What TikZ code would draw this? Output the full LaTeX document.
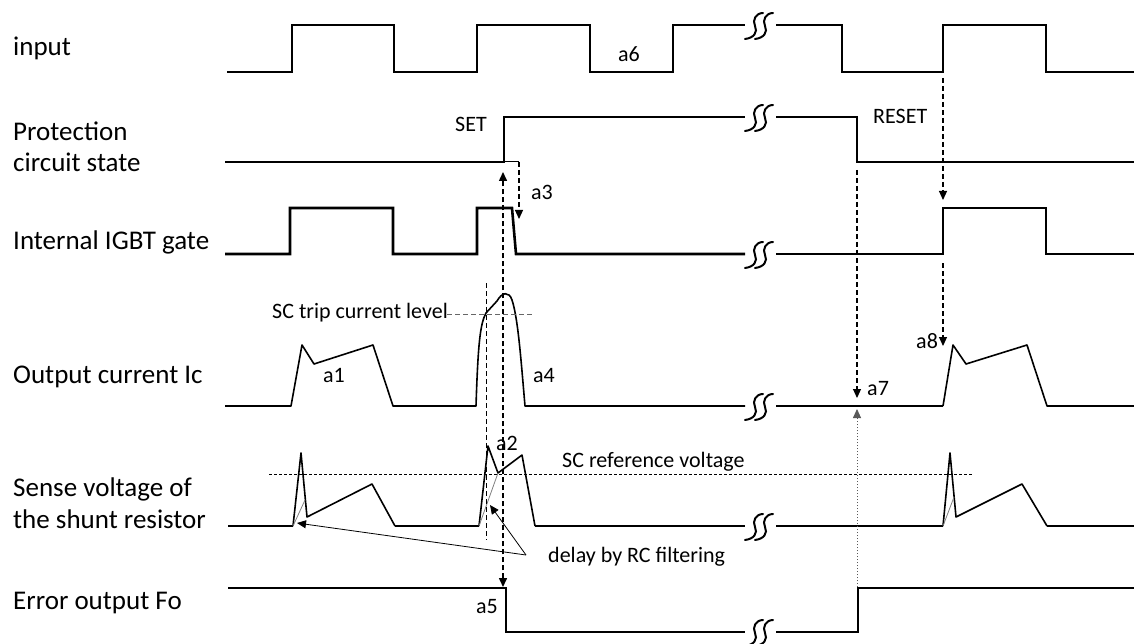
\documentclass[tikz,border=0pt]{standalone}
\usepackage{fontspec}
\setmainfont{Carlito}
\usetikzlibrary{arrows.meta}
\tikzset{
  sig/.style={line width=2.6pt},
  wave/.style={line width=1.6pt, line join=round},
  filt/.style={line width=0.8pt, gray},
  lbl/.style={font=\fontsize{27}{32}\selectfont, inner sep=0pt, anchor=base west},
  note/.style={font=\fontsize{22}{26}\selectfont, inner sep=0pt, anchor=base west},
  tip/.style={-{Triangle[length=9pt,width=8pt]}},
  bothtip/.style={{Triangle[length=9pt,width=8pt]}-{Triangle[length=9pt,width=8pt]}},
  dsh/.style={dash pattern=on 5pt off 3pt, line width=1.5pt},
  thindsh/.style={dash pattern=on 5pt off 3pt, line width=0.9pt},
  finedsh/.style={dash pattern=on 3pt off 2pt, line width=0.9pt},
  brk/.pic={
    \draw[line width=2pt, line cap=round] (-15,13) .. controls (-6,12) and (-2,6) .. (-5,0) .. controls (-8,-6) and (-4,-13) .. (3,-13);
    \draw[line width=2pt, line cap=round] (-5,13) .. controls (4,12) and (8,6) .. (5,0) .. controls (2,-6) and (6,-13) .. (13,-13);
  }
}
\begin{document}
\begin{tikzpicture}[x=1pt,y=-1pt]
\useasboundingbox (0,0) rectangle (1134,644);

% ---- left labels
\node[lbl] (lInput) at (13,56) {input};
\node[lbl] (lProt1) at (13,141) {Protection};
\node[lbl] (lProt2) at (13,172) {circuit state};
\node[lbl] (lGate)  at (13,249) {Internal IGBT gate};
\node[lbl] (lIc)    at (13,383) {Output current Ic};
\node[lbl] (lSense1) at (13,496) {Sense voltage of};
\node[lbl] (lSense2) at (13,528) {the shunt resistor};
\node[lbl] (lFo)    at (13,609) {Error output Fo};

% ---- input
\draw[sig] (227,72) -| (292,25) -| (394,72) -| (477,25) -| (590,72) -| (673,25) -- (745,25);
\draw[sig] (776,25) -| (842,72) -| (943,25) -| (1046,72) -- (1134,72);
\pic at (760,26) {brk};

% ---- protection circuit state
\draw[sig] (225,162) -| (504,117) -- (745,117);
\draw[sig] (776,117) -| (857,162) -- (1134,162);
\pic at (760,118) {brk};
\draw[line width=1pt] (504,162) -- (519,162);

% ---- internal IGBT gate
\draw[sig] (225,254) -| (290,208) -| (393,254) -| (477,208) -- (512,208) -- (516,254) -- (745,254);
\draw[sig] (776,254) -| (943,208) -| (1046,254) -- (1134,254);
\pic at (760,255) {brk};

% ---- output current
\draw[wave] (225,406) -- (291,406) -- (302,345) -- (314,364) -- (373,345) -- (393,406) -- (476,406)
  .. controls (478,345) and (480,324) .. (486,313) -- (497,301)
  .. controls (502,292) and (509,291) .. (512,300)
  .. controls (518,318) and (521,360) .. (525,406) -- (745,406);
\draw[sig] (776,406) -- (943,406);
\draw[wave] (943,406) -- (953,345) -- (966,364) -- (1027,345) -- (1047,406) -- (1134,406);
\pic at (760,407) {brk};

% ---- sense voltage
\draw[wave] (293,526) -- (301,453) -- (307,517) -- (372,484) -- (395,526);
\draw[wave] (479,526) -- (488,446) -- (498,473) -- (522,455) -- (535,526);
\draw[wave] (943,526) -- (950,453) -- (956,517) -- (1022,484) -- (1047,526);
\draw[sig] (228,526) -- (293,526);
\draw[sig] (395,526) -- (479,526);
\draw[sig] (535,526) -- (745,526);
\draw[sig] (776,526) -- (943,526);
\draw[sig] (1047,526) -- (1134,526);
\draw[filt] (293,526) -- (305,500);
\draw[filt] (479,526) -- (498,473);
\draw[filt] (943,526) -- (954,497);
\pic at (760,527) {brk};

% ---- error output
\draw[sig] (228,588) -| (506,632) -- (745,632);
\draw[sig] (776,632) -| (858,588) -- (1134,588);
\pic at (760,633) {brk};

% ---- reference levels
\coordinate (tripL) at (447,314);
\coordinate (tripR) at (532,314);
\draw[thindsh, gray!80!black] (tripL) -- (tripR);
\node[note, anchor=base east] (tTrip) at (448,318) {SC trip current level};
\coordinate (refL) at (269,474);
\coordinate (refR) at (973,474);
\draw[finedsh] (refL) -- (refR);
\node[note] (tRef) at (562,467) {SC reference voltage};

% ---- vertical markers
\coordinate (vTop) at (486,283);
\coordinate (vBot) at (486,540);
\draw[thindsh] (vTop) -- (vBot);

\coordinate (setUp) at (503,172);
\coordinate (foDn) at (503,587);
\draw[dsh, bothtip] (foDn) -- (setUp);

\coordinate (a3s) at (519,162);
\coordinate (a3e) at (519,219);
\draw[thindsh, line width=1.1pt, tip] (a3s) -- (a3e);

\coordinate (a7s) at (857,170);
\coordinate (a7e) at (857,398);
\draw[thindsh, line width=1.1pt, tip] (a7s) -- (a7e);
\coordinate (a7b) at (857,587);
\coordinate (a7u) at (857,409);
\draw[dash pattern=on 1.5pt off 1.5pt, line width=0.9pt, gray!70!black, tip] (a7b) -- (a7u);

\coordinate (a8s1) at (943,78);
\coordinate (a8e1) at (943,200);
\draw[thindsh, line width=1.1pt, tip] (a8s1) -- (a8e1);
\coordinate (a8s2) at (943,263);
\coordinate (a8e2) at (943,346);
\draw[thindsh, line width=1.1pt, tip] (a8s2) -- (a8e2);

% ---- RC filtering arrows
\coordinate (rcFrom) at (526,555);
\coordinate (rcT1) at (297,523);
\coordinate (rcT2) at (490,505);
\draw[line width=0.8pt, tip] (rcFrom) -- (rcT1);
\draw[line width=0.8pt, tip] (rcFrom) -- (rcT2);
\node[note] (tRC) at (548,562) {delay by RC filtering};

% ---- annotations
\node[note] (tSet) at (455,132) {SET};
\node[note] (tReset) at (873,124) {RESET};
\node[note] (a6) at (618,62) {a6};
\node[note] (a3) at (531,200) {a3};
\node[note] (a1) at (323,382) {a1};
\node[note] (a4) at (533,382) {a4};
\node[note] (a8) at (916,348) {a8};
\node[note] (a7) at (867,395) {a7};
\node[note] (a2) at (496,450) {a2};
\node[note] (a5) at (476,613) {a5};
\end{tikzpicture}
\end{document}
